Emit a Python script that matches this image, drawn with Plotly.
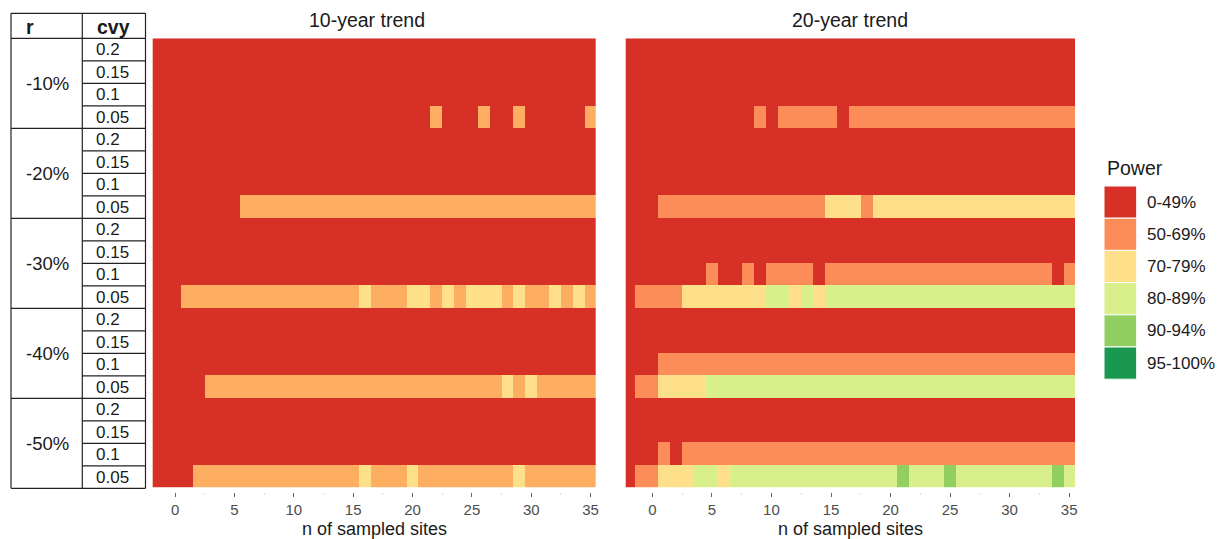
import plotly.graph_objects as go

W, H = 1223, 539

# ---------------- data ----------------
r_levels = ["-10%", "-20%", "-30%", "-40%", "-50%"]
cvy_levels = ["0.2", "0.15", "0.1", "0.05"]
n_sites = list(range(-2, 36))
x_tick_vals = [0, 5, 10, 15, 20, 25, 30, 35]
power_labels = ["0-49%", "50-69%", "70-79%", "80-89%", "90-94%", "95-100%"]
colors_10yr = ["#D73027", "#FDAE61", "#FEE08B", "#D9EF8B", "#91CF60", "#1A9850"]
colors_20yr = ["#D73027", "#FC8D59", "#FEE08B", "#D9EF8B", "#91CF60", "#1A9850"]
panel_titles = ["10-year trend", "20-year trend"]
x_title = "n of sampled sites"

# power class index (0..5) for each cell; one string per row (r, cvy),
# columns are n_sites -2..35 (spaces only for readability)
ALLRED = "0000000000 0000000000 0000000000 00000000"
power_10yr = [
    ALLRED, ALLRED, ALLRED,
    "0000000000 0000000000 0000 1 000 1 00 1 00000 1",
    ALLRED, ALLRED, ALLRED,
    "00000000 1111111111 1111111111 1111111111",
    ALLRED, ALLRED, ALLRED,
    "000 1111111111 11111 2 111 22 1 2 1 222 1 2 11 2 1 2 1",
    ALLRED, ALLRED, ALLRED,
    "00000 1111111111 1111111111 11111 2 1 2 11111",
    ALLRED, ALLRED, ALLRED,
    "0000 1111111111 1111 2 111 2 11111111 2 111111",
]
power_20yr = [
    ALLRED, ALLRED, ALLRED,
    "0000000000 0 1 0 11111 0 1111111111 111111111",
    ALLRED, ALLRED, ALLRED,
    "000 1111111111 1111 222 1 2222222222 2222222",
    ALLRED, ALLRED,
    "0000000 1 00 1 0 1111 0 1111111111 111111111 0 1",
    "0 1111 2222222 33 2 3 2 3333333333 3333333333 3",
    ALLRED, ALLRED,
    "000 1111111111 1111111111 1111111111 11111",
    "0 11 2222 3333333333 3333333333 3333333333 3",
    ALLRED, ALLRED,
    "000 1 0 1111111111 1111111111 1111111111 111",
    "0 11 222 33 2 3333333333 3333 4 333 4 33333333 4 3",
]


def to_matrix(rows):
    m = []
    for s in rows:
        vals = [int(c) for c in s.replace(" ", "")]
        if len(vals) != len(n_sites):
            raise ValueError(f"row length {len(vals)}: {s}")
        m.append(vals)
    return m


def discrete_scale(cols):
    k = len(cols)
    sc = []
    for i, c in enumerate(cols):
        sc.append([i / k, c])
        sc.append([(i + 1) / k, c])
    return sc


z10 = to_matrix(power_10yr)
z20 = to_matrix(power_20yr)
row_idx = list(range(len(r_levels) * len(cvy_levels)))

FONT = "Liberation Sans, Arial, Helvetica, sans-serif"


def PX(p):
    return p / W


def PY(p):
    return 1 - p / H


# pixel geometry
top_px, bot_px = 38.3, 487.7
left_dom = [PX(152.7), PX(595.7)]
right_dom = [PX(625.7), PX(1075.0)]
ydom = [PY(bot_px), PY(top_px)]

fig = go.Figure()
fig.add_trace(go.Heatmap(z=z10, x=n_sites, y=row_idx, colorscale=discrete_scale(colors_10yr),
                         zmin=-0.5, zmax=5.5, showscale=False, hoverinfo="skip",
                         xaxis="x", yaxis="y"))
fig.add_trace(go.Heatmap(z=z20, x=n_sites, y=row_idx, colorscale=discrete_scale(colors_20yr),
                         zmin=-0.5, zmax=5.5, showscale=False, hoverinfo="skip",
                         xaxis="x2", yaxis="y2"))

xax = dict(anchor="free", position=PY(491.5), tickmode="array", tickvals=x_tick_vals,
           ticks="outside", ticklen=4, tickwidth=1.3, tickcolor="#666666",
           tickfont=dict(size=15, color="#4D4D4D", family=FONT),
           showgrid=False, zeroline=False, showline=False, automargin=False,
           minor=dict(dtick=2.5, tick0=0, ticks="outside", ticklen=2, tickwidth=1,
                      tickcolor="#DDDDDD"))
yax = dict(range=[19.5, -0.5], visible=False, showgrid=False, zeroline=False, automargin=False)

fig.update_layout(
    width=W, height=H, margin=dict(l=0, r=0, t=0, b=0),
    paper_bgcolor="white", plot_bgcolor="white", showlegend=False,
    font=dict(family=FONT, color="#1A1A1A"),
    xaxis=dict(domain=left_dom, range=[-1.89, 35.43], **xax),
    xaxis2=dict(domain=right_dom, range=[-2.24, 35.49], **xax),
    yaxis=dict(domain=ydom, anchor="x", **yax),
    yaxis2=dict(domain=ydom, anchor="x2", **yax),
)

ann = []
shapes = []

# panel titles and axis titles
for title, cx in zip(panel_titles, [366.8, 850.0]):
    ann.append(dict(text=title, x=PX(cx), y=PY(19.5), xref="paper", yref="paper",
                    xanchor="center", yanchor="middle", showarrow=False,
                    font=dict(size=19.5, color="#1A1A1A")))
for cx in [374.0, 850.0]:
    ann.append(dict(text=x_title, x=PX(cx), y=PY(528.5), xref="paper", yref="paper",
                    xanchor="center", yanchor="middle", showarrow=False,
                    font=dict(size=18, color="#1A1A1A")))

# ---------------- left table ----------------
tx0, tx1, tx2 = 11.0, 82.3, 145.5
ty_top, ty_head = 13.3, 38.3
row_h = 22.5
n_rows = len(r_levels) * len(cvy_levels)
ty_bot = ty_head + row_h * n_rows
LC = "#222222"
LW = 1.2


def line(x0, y0, x1, y1):
    shapes.append(dict(type="line", xref="paper", yref="paper",
                       x0=PX(x0), y0=PY(y0), x1=PX(x1), y1=PY(y1),
                       line=dict(color=LC, width=LW)))


line(tx0, ty_top, tx2, ty_top)
line(tx0, ty_top, tx0, ty_bot)
line(tx1, ty_top, tx1, ty_bot)
line(tx2, ty_top, tx2, ty_bot)
line(tx0, ty_head, tx2, ty_head)
for k in range(1, n_rows + 1):
    yy = ty_head + row_h * k
    if k % len(cvy_levels) == 0:
        line(tx0, yy, tx2, yy)
    else:
        line(tx1, yy, tx2, yy)

ann.append(dict(text="<b>r</b>", x=PX(23.5), y=PY(26.5), xref="paper", yref="paper",
                xanchor="left", yanchor="middle", showarrow=False, font=dict(size=19.5)))
ann.append(dict(text="<b>cvy</b>", x=PX(94.5), y=PY(26.5), xref="paper", yref="paper",
                xanchor="left", yanchor="middle", showarrow=False, font=dict(size=19.5)))
for g, r in enumerate(r_levels):
    cy = ty_head + row_h * len(cvy_levels) * (g + 0.5)
    ann.append(dict(text=r, x=PX(23.5), y=PY(cy + 0.5), xref="paper", yref="paper",
                    xanchor="left", yanchor="middle", showarrow=False, font=dict(size=18.5)))
    for j, c in enumerate(cvy_levels):
        k = g * len(cvy_levels) + j
        cyy = ty_head + row_h * (k + 0.5)
        ann.append(dict(text=c, x=PX(94.0), y=PY(cyy), xref="paper", yref="paper",
                        xanchor="left", yanchor="middle", showarrow=False, font=dict(size=17)))

# ---------------- legend ----------------
ann.append(dict(text="Power", x=PX(1104.5), y=PY(167.5), xref="paper", yref="paper",
                xanchor="left", yanchor="middle", showarrow=False, font=dict(size=19.5)))
lg_x0, lg_x1, lg_y0, lg_h = 1104.0, 1136.7, 186.0, 32.2
for i, (lab, col) in enumerate(zip(power_labels, colors_20yr)):
    y0 = lg_y0 + lg_h * i
    shapes.append(dict(type="rect", xref="paper", yref="paper",
                       x0=PX(lg_x0), x1=PX(lg_x1), y0=PY(y0), y1=PY(y0 + lg_h),
                       fillcolor=col, line=dict(color="white", width=1)))
    ann.append(dict(text=lab, x=PX(1145.0), y=PY(y0 + lg_h / 2), xref="paper", yref="paper",
                    xanchor="left", yanchor="middle", showarrow=False, font=dict(size=17)))

fig.update_layout(annotations=ann, shapes=shapes)
fig.write_html("out.html", config={"displayModeBar": False})
